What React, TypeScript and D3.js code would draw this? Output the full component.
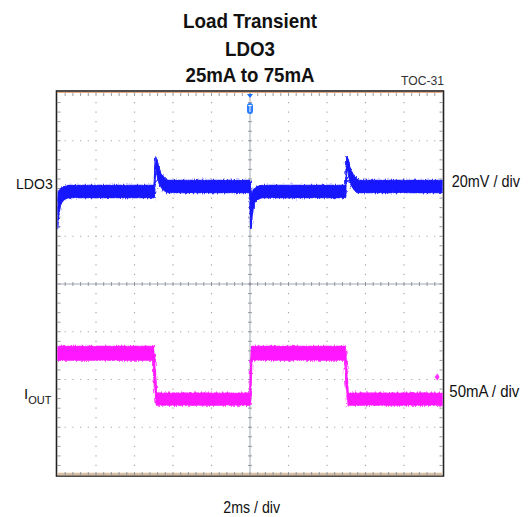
import React from "react";
import * as d3 from "d3";

// ---- Data ----
// Time axis: 2 ms / div, 10 divisions, trigger at 0 ms (centre)
const timeDomain = [-10, 10];
const ldo3Time = [
  -10.0, -9.953, -9.875, -9.771, -9.615, -9.356,
  -4.996, -4.97, -4.908, -4.84, -4.762, -4.658, -4.502, -4.243,
  -0.011, 0.015, 0.046, 0.093, 0.171, 0.275, 0.431, 0.69,
  4.944, 4.97, 5.032, 5.1, 5.178, 5.282, 5.438, 5.697, 10.0,
];
// LDO3 AC-coupled deviation, mV (upper / lower envelope of the noisy trace)
const ldo3Upper = [
  -2.72, -1.88, -0.63, 0.21, 0.84, 1.26,
  1.26, 2.3, 13.4, 11.94, 9.42, 6.91, 4.82, 3.35,
  3.35, 2.72, -2.72, -1.88, -0.63, 0.21, 0.84, 1.26,
  1.26, 2.3, 13.4, 11.94, 9.42, 6.91, 4.82, 3.35, 3.35,
];
const ldo3Lower = [
  -16.75, -12.35, -7.75, -5.65, -4.4, -3.77,
  -3.77, -3.77, 9.42, 6.91, 3.56, 1.05, -0.63, -1.68,
  -1.68, -9.0, -16.75, -12.35, -7.75, -5.65, -4.4, -3.77,
  -3.77, -3.77, 9.42, 6.91, 3.56, 1.05, -0.63, -1.68, -1.68,
];
// IOUT, mA
const ioutTime = [-10, -5.023, -4.961, -4.857, -0.01, 0.026, 0.088, 4.935, 4.997, 5.091, 10];
const ioutUpper = [82.1, 82.1, 72, 33.1, 33.1, 55, 82.1, 82.1, 72, 33.1, 33.1];
const ioutLower = [68, 68, 40, 20.9, 20.9, 25, 68, 68, 40, 20.9, 20.9];
const triggerLevel = 50; // mA
const triggerTime = 0; // ms

const titleLines = ["Load Transient", "LDO3", "25mA to 75mA"];
const ch1Scale = 20; // mV / div
const ch2Scale = 50; // mA / div
const ch1Offset = 2; // divisions
const ch2Offset = -2.95; // divisions

const W = 530;
const H = 517;
const L = 57.5, R = 442.5, T = 93, B = 475;
const XDIV = 10, YDIV = 8;

export default function App() {
  const x = d3.scaleLinear().domain(timeDomain).range([L, R]);
  const yDiv = d3.scaleLinear().domain([-YDIV / 2, YDIV / 2]).range([B, T]);
  const yV = (v: number) => yDiv(ch1Offset + v / ch1Scale);
  const yI = (i: number) => yDiv(ch2Offset + i / ch2Scale);

  const dx = (R - L) / XDIV;
  const dy = (B - T) / YDIV;
  const mx = dx / 5;
  const my = dy / 5;
  const cx = x(0);
  const cy = yDiv(0);

  const ldoArea = d3
    .area<number>()
    .x((i) => x(ldo3Time[i]))
    .y0((i) => yV(ldo3Lower[i]))
    .y1((i) => yV(ldo3Upper[i]))
    .curve(d3.curveMonotoneX)(ldo3Time.map((_, i) => i)) as string;
  const ioutArea = d3
    .area<number>()
    .x((i) => x(ioutTime[i]))
    .y0((i) => yI(ioutLower[i]))
    .y1((i) => yI(ioutUpper[i]))
    .curve(d3.curveLinear)(ioutTime.map((_, i) => i)) as string;

  const font = "'Liberation Sans', Arial, sans-serif";

  const dotV = [1, 2, 3, 4, 6, 7, 8, 9];
  const dotH = [1, 2, 3, 5, 6, 7];
  const minorXs = d3.range(1, XDIV * 5).map((k) => L + k * mx);
  const minorYs = d3.range(1, YDIV * 5).map((k) => T + k * my);

  const ty = yI(triggerLevel);
  const tx = x(triggerTime);
  const blue = "#1414ff";
  const pink = "#ff14ff";

  return (
    <svg width={W} height={H} style={{ position: "absolute", left: 0, top: 0 }}>
      <defs>
        <filter id="noise" x="-5%" y="-30%" width="110%" height="160%">
          <feTurbulence type="fractalNoise" baseFrequency="0.9 0.2" numOctaves={2} seed={3} result="n" />
          <feDisplacementMap in="SourceGraphic" in2="n" scale={5} xChannelSelector="B" yChannelSelector="G" />
        </filter>
        <clipPath id="plotClip">
          <rect x={L} y={T} width={R - L} height={B - T} />
        </clipPath>
      </defs>
      <rect x={0} y={0} width={W} height={H} fill="#fff" />

      {/* Title */}
      {titleLines.map((t, i) => (
        <text
          key={i}
          x={250}
          y={[28.3, 56, 81.7][i]}
          textAnchor="middle"
          fontFamily={font}
          fontWeight="bold"
          fontSize={21}
          textLength={[134, 50, 129][i]}
          lengthAdjust="spacingAndGlyphs"
          fill="#111"
        >
          {t}
        </text>
      ))}
      <text x={444} y={85} textAnchor="end" fontFamily={font} fontSize={13} textLength={43} lengthAdjust="spacingAndGlyphs" fill="#333">
        TOC-31
      </text>

      {/* Graticule */}
      <rect x={L - 1} y={T - 2} width={R - L + 2} height={B - T + 3} fill="#fff" stroke="#222" strokeWidth={1.6} />
      <line x1={L} x2={R} y1={T - 0.5} y2={T - 0.5} stroke="#e6a77a" strokeWidth={1.2} />
      <line x1={L} x2={R} y1={B - 0.8} y2={B - 0.8} stroke="#d8bea2" strokeWidth={2.8} />
      {dotV.map((i) => (
        <line key={"v" + i} x1={L + i * dx} x2={L + i * dx} y1={T - 0.6} y2={B} stroke="#a8a8a8" strokeWidth={1.2} strokeDasharray={`1.2 ${my - 1.2}`} />
      ))}
      {dotH.map((j) => (
        <line key={"h" + j} y1={T + j * dy} y2={T + j * dy} x1={L - 0.6} x2={R} stroke="#a8a8a8" strokeWidth={1.2} strokeDasharray={`1.2 ${mx - 1.2}`} />
      ))}
      <line x1={cx} x2={cx} y1={T} y2={B} stroke="#a3a8b0" strokeWidth={1} />
      <line x1={L} x2={R} y1={cy} y2={cy} stroke="#a3a8b0" strokeWidth={1} />
      {minorXs.map((px, k) => (
        <g key={"mx" + k} stroke="#8a8f98" strokeWidth={0.9}>
          <line x1={px} x2={px} y1={cy - 2} y2={cy + 2} />
          <line x1={px} x2={px} y1={T} y2={T + 3} />
          <line x1={px} x2={px} y1={B - 3} y2={B} />
        </g>
      ))}
      {minorYs.map((py, k) => (
        <g key={"my" + k} stroke="#8a8f98" strokeWidth={0.9}>
          <line y1={py} y2={py} x1={cx - 2} x2={cx + 2} />
          <line y1={py} y2={py} x1={L} x2={L + 3} />
          <line y1={py} y2={py} x1={R - 3} x2={R} />
        </g>
      ))}

      {/* Traces */}
      <g clipPath="url(#plotClip)">
        <g filter="url(#noise)" opacity={0.85}>
          <path d={ldoArea} fill={blue} stroke={blue} strokeWidth={1.5} />
          <path d={ioutArea} fill={pink} stroke={pink} strokeWidth={1.5} />
        </g>
        <path d={ldoArea} fill={blue} stroke={blue} strokeWidth={0.8} transform="translate(0,0)" style={{ clipPath: "none" }} opacity={0.9} />
        <path d={ioutArea} fill={pink} stroke={pink} strokeWidth={0.8} opacity={0.9} />
      </g>

      {/* Trigger markers */}
      <path d={`M${tx - 3},${T + 1} L${tx + 3},${T + 1} L${tx},${T + 5} Z`} fill="#1a6cff" />
      <rect x={tx - 3} y={T + 10} width={6} height={11} rx={3} fill="#2a7dff" />
      <path d={`M${tx - 1.8},${T + 12.5} L${tx + 1.8},${T + 12.5} M${tx},${T + 12.5} L${tx},${T + 19}`} stroke="#fff" strokeWidth={1} />
      <path d={`M${R - 8},${ty} L${R - 5},${ty - 3.5} L${R - 3},${ty} L${R - 5},${ty + 3.5} Z`} fill="#ff33ff" />

      {/* Labels */}
      <text x={52.7} y={189.3} textAnchor="end" fontFamily={font} fontSize={15} textLength={36.7} lengthAdjust="spacingAndGlyphs" fill="#111">
        LDO3
      </text>
      <text x={24} y={399.3} fontFamily={font} fontSize={15} fill="#111">
        I
        <tspan fontSize={11} dy={5}>OUT</tspan>
      </text>
      <text x={451.7} y={187.3} fontFamily={font} fontSize={16} textLength={68.3} lengthAdjust="spacingAndGlyphs" fill="#111">
        20mV / div
      </text>
      <text x={449.3} y={397.3} fontFamily={font} fontSize={16} textLength={70} lengthAdjust="spacingAndGlyphs" fill="#111">
        50mA / div
      </text>
      <text x={223.3} y={512.5} fontFamily={font} fontSize={16} textLength={56.7} lengthAdjust="spacingAndGlyphs" fill="#111">
        2ms / div
      </text>
    </svg>
  );
}
